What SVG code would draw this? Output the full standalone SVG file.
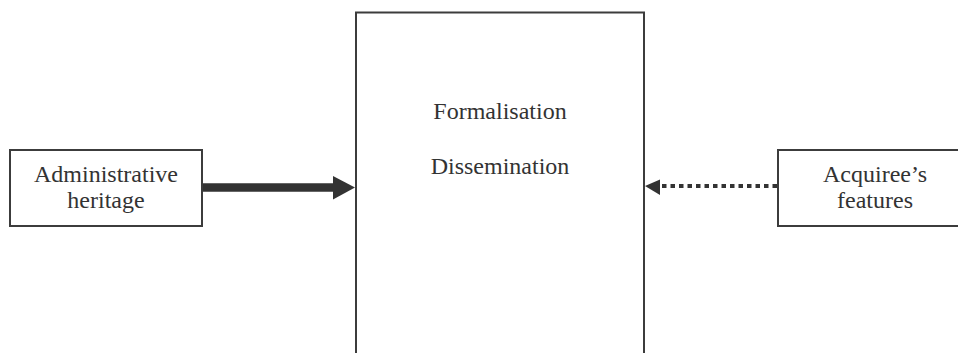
<svg xmlns="http://www.w3.org/2000/svg" width="958" height="353" viewBox="0 0 958 353">
<style>
.box{fill:#fff;stroke:#3c3c3c;stroke-width:2}
.t{font-family:"Liberation Serif","Times New Roman",serif;font-size:24px;fill:#333;text-anchor:middle}
</style>
<rect width="958" height="353" fill="#fff"/>
<g id="center">
<path class="box" d="M356,356 V12.5 H644 V356"/>
<text class="t" x="500" y="119">Formalisation</text>
<text class="t" x="500" y="174">Dissemination</text>
</g>
<g id="admin">
<rect class="box" x="10" y="150" width="192" height="76"/>
<text class="t" x="106" y="182">Administrative</text>
<text class="t" x="106" y="208">heritage</text>
</g>
<g id="acquiree">
<rect class="box" x="778" y="150" width="190" height="76"/>
<text class="t" x="875" y="182">Acquiree’s</text>
<text class="t" x="875" y="208">features</text>
</g>
<g id="connectors">
<line x1="203" y1="187.5" x2="334" y2="187.5" stroke="#333" stroke-width="8.5"/>
<polygon points="333,176 355,187.5 333,199.5" fill="#333"/>
<line x1="777" y1="186" x2="660" y2="186" stroke="#333" stroke-width="4" stroke-dasharray="4.5 4"/>
<polygon points="660,179.5 645,186 660,195" fill="#333"/>
</g>
</svg>
